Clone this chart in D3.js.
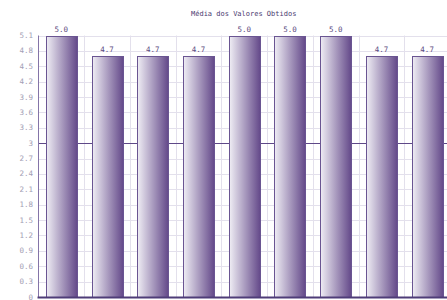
<!DOCTYPE html>
<html>
<head>
<meta charset="utf-8">
<style>
  body { margin: 0; background: #fff; }
  svg { display: block; }
</style>
</head>
<body>
<svg width="447" height="300" font-family="DejaVu Sans Mono" font-size="7.5"></svg>

<script src="https://d3js.org/d3.v7.min.js"></script>

<script>

var categories = ["1", "2", "3", "4", "5", "6", "7", "8", "9"];
// bar heights as drawn in the picture
var values = [5.1, 4.7, 4.7, 4.7, 5.1, 5.1, 5.1, 4.7, 4.7];
// labels as printed above the bars
var valueLabels = ["5.0", "4.7", "4.7", "4.7", "5.0", "5.0", "5.0", "4.7", "4.7"];
var yTicks = [0, 0.3, 0.6, 0.9, 1.2, 1.5, 1.8, 2.1, 2.4, 2.7, 3, 3.3, 3.6, 3.9, 4.2, 4.5, 4.8, 5.1];
var refLine = 3;
var title = "Média dos Valores Obtidos";

var svg = d3.select("svg"),
    width = +svg.attr("width"),
    height = +svg.attr("height");

var plotLeft = 38.5, plotRight = 450, plotTop = 35.5, plotBottom = 297;

var x = d3.scaleBand()
    .domain(categories)
    .range([plotLeft, plotRight])
    .paddingInner(0.32)
    .paddingOuter(0.16);

var y = d3.scaleLinear()
    .domain([0, 5.1])
    .range([plotBottom, plotTop]);

var grad = svg.append("defs").append("linearGradient")
    .attr("id", "barGrad")
    .attr("x1", "0%").attr("x2", "100%")
    .attr("y1", "0%").attr("y2", "0%");
grad.append("stop").attr("offset", "0%").attr("stop-color", "#efedf4");
grad.append("stop").attr("offset", "100%").attr("stop-color", "#634889");

// title
svg.append("text")
    .attr("x", 243.7)
    .attr("y", 16)
    .attr("text-anchor", "middle")
    .attr("font-size", 7)
    .attr("fill", "#4a3a70")
    .text(title);

// horizontal grid
svg.append("g")
  .selectAll("line")
  .data(yTicks)
  .enter().append("line")
    .attr("x1", plotLeft).attr("x2", width)
    .attr("y1", function(d) { return Math.round(y(d)) + 0.5; })
    .attr("y2", function(d) { return Math.round(y(d)) + 0.5; })
    .attr("stroke", "#e3e0ec");

// vertical grid at category boundaries
var step = x.step();
svg.append("g")
  .selectAll("line")
  .data(categories)
  .enter().append("line")
    .attr("x1", function(d) { return Math.round(x(d) + x.bandwidth() + (step - x.bandwidth()) / 2) + 0.5; })
    .attr("x2", function(d) { return Math.round(x(d) + x.bandwidth() + (step - x.bandwidth()) / 2) + 0.5; })
    .attr("y1", plotTop).attr("y2", plotBottom)
    .attr("stroke", "#e3e0ec");

// reference line at 3
svg.append("line")
    .attr("x1", plotLeft).attr("x2", width)
    .attr("y1", Math.round(y(refLine)) + 0.5)
    .attr("y2", Math.round(y(refLine)) + 0.5)
    .attr("stroke", "#5e4888");

// bars
svg.append("g")
  .selectAll("rect")
  .data(values)
  .enter().append("rect")
    .attr("x", function(d, i) { return Math.round(x(categories[i])) + 0.5; })
    .attr("y", function(d) { return Math.round(y(d)) + 0.5; })
    .attr("width", Math.round(x.bandwidth()))
    .attr("height", function(d) { return Math.round(y(0)) - Math.round(y(d)); })
    .attr("fill", "url(#barGrad)")
    .attr("stroke", "#6a5592");

// value labels
svg.append("g")
  .selectAll("text")
  .data(values)
  .enter().append("text")
    .attr("x", function(d, i) { return x(categories[i]) + x.bandwidth() / 2; })
    .attr("y", function(d) { return y(d) - 4; })
    .attr("text-anchor", "middle")
    .attr("fill", "#5a4a80")
    .text(function(d, i) { return valueLabels[i]; });

// y axis labels
svg.append("g")
  .selectAll("text")
  .data(yTicks)
  .enter().append("text")
    .attr("x", 33)
    .attr("y", function(d) { return y(d) + 2.5; })
    .attr("text-anchor", "end")
    .attr("fill", "#a29eb4")
    .text(function(d) { return d3.format("~g")(d); });

// axes lines
svg.append("line")
    .attr("x1", plotLeft).attr("x2", plotLeft)
    .attr("y1", plotTop).attr("y2", plotBottom)
    .attr("stroke", "#8474a8");

svg.append("line")
    .attr("x1", plotLeft - 1).attr("x2", width)
    .attr("y1", plotBottom + 0.5).attr("y2", plotBottom + 0.5)
    .attr("stroke", "#4e3c78")
    .attr("stroke-width", 2);

</script>
</body>
</html>
